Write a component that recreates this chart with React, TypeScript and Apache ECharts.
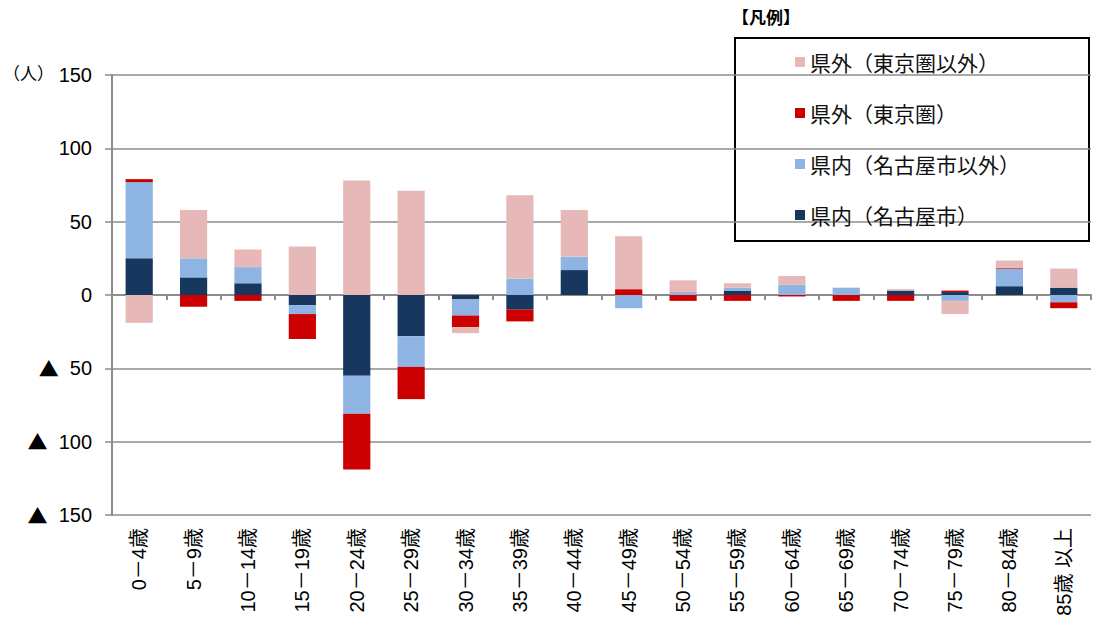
import React, { useEffect, useRef } from "react";
import * as echarts from "echarts";

const categories = [
  "0－4歳", "5－9歳", "10－14歳", "15－19歳", "20－24歳", "25－29歳",
  "30－34歳", "35－39歳", "40－44歳", "45－49歳", "50－54歳", "55－59歳",
  "60－64歳", "65－69歳", "70－74歳", "75－79歳", "80－84歳", "85歳 以上",
];

// 県内(名古屋市) — positive / negative parts
const nagoyaPos = [25, 12, 8, 0, 0, 0, 0, 0, 17, 0, 0, 3, 0, 0, 3, 2, 6, 5];
const nagoyaNeg = [0, 0, 0, -7, -55, -28, -3, -10, 0, 0, 0, 0, 0, 0, 0, 0, 0, 0];
// 県内(名古屋市以外)
const otherAichiPos = [52, 13, 11, 0, 0, 0, 0, 11, 9, 0, 2, 2, 7, 5, 0, 0, 12, 0];
const otherAichiNeg = [0, 0, 0, -6, -26, -21, -11, 0, 0, -9, 0, 0, 0, 0, 0, -4, 0, -5];
// 県外(東京圏)
const tokyoPos = [2, 0, 0, 0, 0, 0, 0, 0, 0, 4, 0, 0, 0, 0, 0, 1, 0.5, 0];
const tokyoNeg = [0, -8, -4, -17, -38, -22, -8, -8, 0, 0, -4, -4, -1, -4, -4, 0, 0, -4];
// 県外(東京圏以外)
const outsidePos = [0, 33, 12, 33, 78, 71, 0, 57, 32, 36, 8, 3, 6, 0, 1, 0, 5, 13];
const outsideNeg = [-19, 0, 0, 0, 0, 0, -4, 0, 0, 0, 0, 0, 0, 0, 0, -9, 0, 0];

const yTicks = [-150, -100, -50, 0, 50, 100, 150];

const NAME_NAGOYA = "県内（名古屋市）";
const NAME_AICHI = "県内（名古屋市以外）";
const NAME_TOKYO = "県外（東京圏）";
const NAME_OUT = "県外（東京圏以外）";

const COLORS: Record<string, string> = {
  [NAME_NAGOYA]: "#17375E",
  [NAME_AICHI]: "#8EB4E3",
  [NAME_TOKYO]: "#CC0000",
  [NAME_OUT]: "#E6B9B8",
};

const FONT = "'Liberation Sans', Arial, 'Noto Sans CJK JP', sans-serif";
const JFONT = "'Noto Sans CJK JP', sans-serif";

export default function App() {
  const ref = useRef<HTMLDivElement>(null);
  useEffect(() => {
    document.body.style.margin = "0";
    if (!ref.current) return;
    const chart = echarts.init(ref.current, undefined, { renderer: "svg" });

    const seriesDefs = [
      { name: NAME_NAGOYA, pos: nagoyaPos, neg: nagoyaNeg },
      { name: NAME_AICHI, pos: otherAichiPos, neg: otherAichiNeg },
      { name: NAME_TOKYO, pos: tokyoPos, neg: tokyoNeg },
      { name: NAME_OUT, pos: outsidePos, neg: outsideNeg },
    ];
    const series: any[] = [];
    seriesDefs.forEach((s) => {
      series.push({
        name: s.name,
        type: "bar",
        stack: "total",
        data: s.pos,
        barWidth: "50%",
        itemStyle: { color: COLORS[s.name] },
      });
    });
    seriesDefs.forEach((s) => {
      series.push({
        name: s.name,
        type: "bar",
        stack: "total",
        data: s.neg,
        barWidth: "50%",
        itemStyle: { color: COLORS[s.name] },
      });
    });

    chart.setOption({
      animation: false,
      grid: { left: 112, right: 3, top: 75, bottom: 110, containLabel: false },
      legend: {
        orient: "vertical",
        left: 795,
        top: 51,
        padding: 0,
        itemGap: 29,
        icon: "rect",
        itemWidth: 10,
        itemHeight: 10,
        selectedMode: false,
        data: [NAME_OUT, NAME_TOKYO, NAME_AICHI, NAME_NAGOYA],
        textStyle: { fontSize: 21, lineHeight: 22, color: "#111", fontFamily: JFONT },
      },
      graphic: [
        {
          type: "rect",
          left: 734,
          top: 37,
          shape: { width: 354, height: 203 },
          style: { fill: "#fff", stroke: "#000", lineWidth: 2 },
          z: -1,
        },
        {
          type: "text",
          left: 732,
          top: 8,
          style: { text: "【凡例】", fontSize: 17, fontWeight: "bold", fill: "#000", fontFamily: JFONT },
        },
        {
          type: "text",
          left: 3,
          top: 64,
          style: { text: "（人）", fontSize: 17, fill: "#000", fontFamily: JFONT },
        },
      ],
      xAxis: [
        {
          type: "category",
          data: categories,
          position: "bottom",
          axisLine: { onZero: true, lineStyle: { color: "#8c8c8c", width: 2 } },
          axisTick: { show: true, interval: 0, length: 5, lineStyle: { color: "#8c8c8c", width: 2 } },
          axisLabel: { show: false },
          splitLine: { show: false },
        },
        {
          type: "category",
          data: categories,
          position: "bottom",
          axisLine: { show: false, onZero: false },
          axisTick: { show: false },
          axisLabel: {
            interval: 0,
            rotate: 90,
            margin: 13,
            fontSize: 20,
            color: "#000",
            fontFamily: FONT,
          },
        },
      ],
      yAxis: {
        type: "value",
        min: yTicks[0],
        max: yTicks[yTicks.length - 1],
        interval: 50,
        axisLine: { show: true, lineStyle: { color: "#8c8c8c", width: 2 } },
        axisTick: { show: true, length: 7, lineStyle: { color: "#8c8c8c", width: 1.5 } },
        splitLine: { show: true, lineStyle: { color: "#8c8c8c", width: 1.5 } },
        axisLabel: {
          margin: 20,
          fontSize: 20,
          color: "#000",
          fontFamily: FONT,
          formatter: (v: number) => (v < 0 ? "{tri|▲}  " + -v : String(v)),
          rich: {
            tri: { fontSize: 20, fontFamily: JFONT, color: "#000" },
          },
        },
      },
      series,
    });
    return () => chart.dispose();
  }, []);
  return <div ref={ref} style={{ width: 1094, height: 625 }} />;
}
